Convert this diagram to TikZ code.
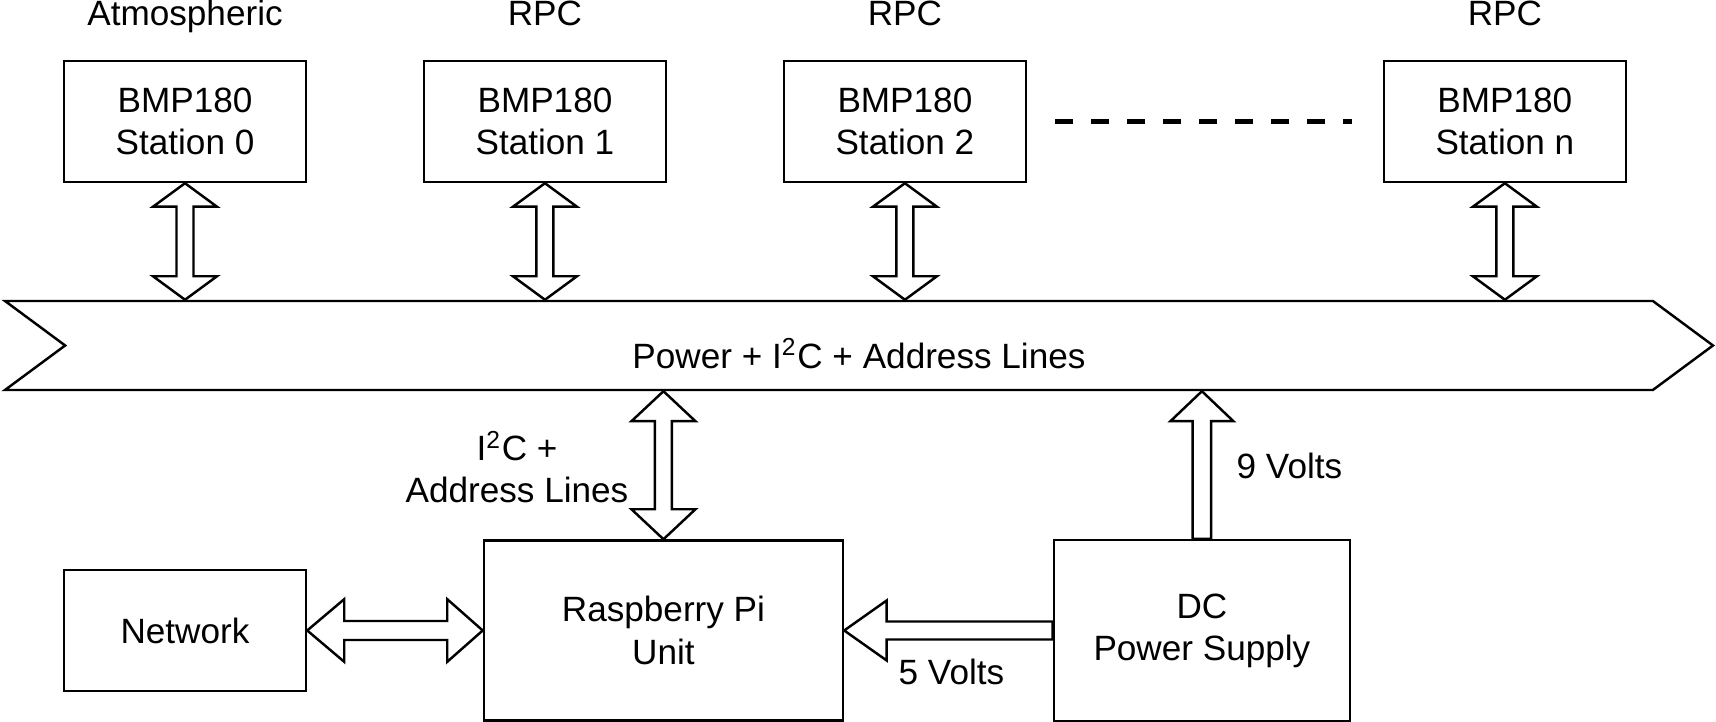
\documentclass[tikz,border=0pt]{standalone}
\usepackage{fontspec}
\setmainfont{Liberation Sans}
\usetikzlibrary{positioning,shapes.symbols,calc}

\tikzset{
  box/.style={draw, line width=0.7pt, align=center, minimum width=2.42cm, minimum height=1.21cm, inner sep=0pt},
  toplbl/.style={anchor=base, inner sep=0pt},
  fat/.style={draw, fill=white, line width=0.7pt, line join=miter},
  bus/.style={signal, draw, line width=0.7pt, signal from=west, signal to=east, signal pointer angle=73, minimum width=17.08cm, minimum height=0.89cm, inner sep=0pt},
  dots/.style={line width=1.5pt, dash pattern=on 0.18cm off 0.18cm},
}

% double arrow between two tips, #1 = head length
\newcommand{\dblv}[3][0.235]{%
  \draw[fat] (#2) -- ++(0.32,-#1) -- ++(-0.235,0) -- ($(#3)+(0.085,#1)$) -- ++(0.235,0) -- (#3) -- ++(-0.32,#1) -- ++(0.235,0) -- ($(#2)+(-0.085,-#1)$) -- ++(-0.235,0) -- cycle;}

\begin{document}
\begin{tikzpicture}[font=\fontsize{10}{12}\selectfont]
    \useasboundingbox (0,0) rectangle (17.16,7.22);

    % stations
    \node[box] (st0) at (1.85,6.005) {BMP180\\Station 0};
    \node[box, right=1.155cm of st0] (st1) {BMP180\\Station 1};
    \node[box, right=1.155cm of st1] (st2) {BMP180\\Station 2};
    \node[box, right=3.555cm of st2] (stn) {BMP180\\Station n};

    \node[toplbl] (lab0) at ([yshift=3.4mm]st0.north) {Atmospheric};
    \node[toplbl] (lab1) at ([yshift=3.4mm]st1.north) {RPC};
    \node[toplbl] (lab2) at ([yshift=3.4mm]st2.north) {RPC};
    \node[toplbl] (labn) at ([yshift=3.4mm]stn.north) {RPC};

    \draw[dots, shorten <=0.28cm, shorten >=0.31cm] (st2.east) -- (stn.west);

    % bus
    \node[bus] (bus) at (8.59,3.765) {};
    \node[inner sep=0pt] (buslbl) at ([yshift=-0.083cm]bus.center) {Power + I\textsuperscript{2}C + Address Lines};

    \coordinate (b0) at (st0.south |- bus.north);
    \coordinate (b1) at (st1.south |- bus.north);
    \coordinate (b2) at (st2.south |- bus.north);
    \coordinate (bn) at (stn.south |- bus.north);
    \dblv{st0.south}{b0}
    \dblv{st1.south}{b1}
    \dblv{st2.south}{b2}
    \dblv{stn.south}{bn}

    % bottom row
    \node[box] (net) at (1.85,0.915) {Network};
    \node[box, minimum width=3.59cm, minimum height=1.80cm, right=1.755cm of net] (pi) {Raspberry Pi\\Unit};
    \node[box, minimum width=2.96cm, minimum height=1.81cm, right=2.085cm of pi] (dc) {DC\\Power Supply};

    \coordinate (b4) at (pi.north |- bus.south);
    \dblv[0.30]{b4}{pi.north}

    \draw[fat] (net.east) -- ++(0.37,0.313) -- ++(0,-0.218) -- ($(pi.west)+(-0.355,0.095)$) -- ++(0,0.218) -- (pi.west) -- ++(-0.355,-0.313) -- ++(0,0.218) -- ($(net.east)+(0.37,-0.095)$) -- ++(0,-0.218) -- cycle;

    \coordinate (d5) at (dc.west |- pi.east);
    \draw[fat] (pi.east) -- ++(0.425,0.30) -- ++(0,-0.21) -- ($(d5)+(0,0.09)$) -- ($(d5)+(0,-0.09)$) -- ($(pi.east)+(0.425,-0.09)$) -- ++(0,-0.21) -- cycle;

    \coordinate (b5) at (dc.north |- bus.south);
    \draw[fat] ($(dc.north)+(-0.0925,0)$) -- ($(b5)+(-0.0925,-0.30)$) -- ++(-0.2225,0) -- (b5) -- ++(0.315,-0.30) -- ++(-0.2225,0) -- ($(dc.north)+(0.0925,0)$) -- cycle;

    \node[anchor=south, align=center, inner sep=0pt] (i2cl) at (5.17,2.18) {I\textsuperscript{2}C +\\Address Lines};
    \node[anchor=base west, inner sep=0pt] (v9) at (12.36,2.43) {9 Volts};
    \node[anchor=base west, inner sep=0pt] (v5) at (8.98,0.37) {5 Volts};

\end{tikzpicture}
\end{document}
